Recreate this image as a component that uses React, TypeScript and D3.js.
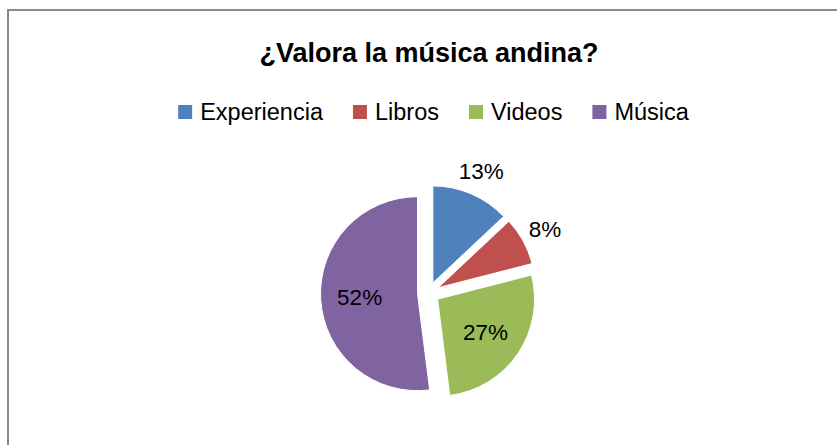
import React, { useLayoutEffect, useRef, useState } from "react";
import * as d3 from "d3";

const categories = ["Experiencia", "Libros", "Videos", "Música"];
const values = [13, 8, 27, 52];
const colors = ["#4F81BD", "#C0504D", "#9BBB59", "#8064A2"];
const title = "¿Valora la música andina?";

const W = 837;
const H = 445;
const FONT = "'Liberation Sans', Arial, sans-serif";

export default function App() {
  const legendRefs = useRef<(SVGTextElement | null)[]>([]);
  const [widths, setWidths] = useState<number[]>(categories.map(() => 100));

  useLayoutEffect(() => {
    const w = legendRefs.current.map((el) => (el ? el.getComputedTextLength() : 100));
    setWidths(w);
  }, []);

  const cx = 428.5;
  const cy = 293;
  const r = 97;
  const explode = 11;

  const pie = d3.pie<number>().sort(null).value((d) => d);
  const arcs = pie(values);
  const arcGen = d3.arc<d3.PieArcDatum<number>>().innerRadius(0).outerRadius(r);
  const total = d3.sum(values);

  // legend layout
  const sq = 14;
  const gapSqText = 8;
  const gapItems = 30;
  const itemW = widths.map((w) => sq + gapSqText + w);
  const legendTotal = d3.sum(itemW) + gapItems * (categories.length - 1);
  let lx = 433.5 - legendTotal / 2;
  const legendX: number[] = [];
  itemW.forEach((w) => {
    legendX.push(lx);
    lx += w + gapItems;
  });
  const legendBaseline = 120;

  return (
    <svg
      width={W}
      height={H}
      style={{ position: "absolute", left: 0, top: 0, background: "#fff" }}
      fontFamily={FONT}
    >
      <rect x={0} y={0} width={W} height={H} fill="#fff" />
      <rect x={8} y={10} width={W + 20} height={H + 20} fill="none" stroke="#8a8a8a" strokeWidth={2} />
      <text x={429} y={62} textAnchor="middle" fontSize={27} fontWeight="bold" fill="#000">
        {title}
      </text>
      {categories.map((c, i) => (
        <g key={c}>
          <rect x={legendX[i]} y={legendBaseline - 15} width={sq} height={sq} fill={colors[i]} />
          <text
            ref={(el) => {
              legendRefs.current[i] = el;
            }}
            x={legendX[i] + sq + gapSqText}
            y={legendBaseline}
            fontSize={23.5}
            fill="#000"
          >
            {c}
          </text>
        </g>
      ))}
      {arcs.map((a, i) => {
        const mid = (a.startAngle + a.endAngle) / 2;
        const ox = Math.sin(mid) * explode;
        const oy = -Math.cos(mid) * explode;
        return (
          <path
            key={categories[i]}
            d={arcGen(a) || ""}
            transform={`translate(${cx + ox},${cy + oy})`}
            fill={colors[i]}
            stroke="#fff"
            strokeWidth={1}
          />
        );
      })}
      {arcs.map((a, i) => {
        const mid = (a.startAngle + a.endAngle) / 2;
        const pct = a.value / total;
        const lr = pct < 0.2 ? 133 : 69;
        const x = cx + Math.sin(mid) * lr;
        const y = cy - Math.cos(mid) * lr;
        return (
          <text
            key={"l" + i}
            x={x}
            y={y}
            dy="0.36em"
            textAnchor="middle"
            fontSize={22.5}
            fill="#000"
          >
            {`${Math.round(pct * 100)}%`}
          </text>
        );
      })}
    </svg>
  );
}
